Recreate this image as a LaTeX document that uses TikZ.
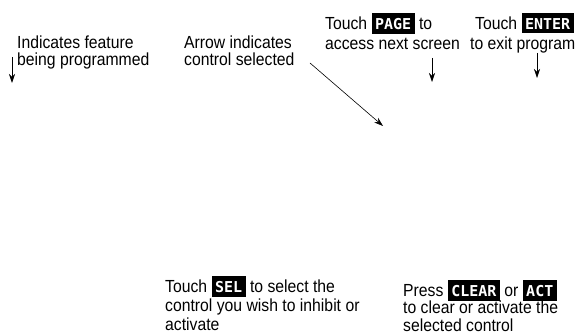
\documentclass[tikz,border=0pt]{standalone}
\usepackage{fontspec}
\setmainfont{Liberation Sans}[FakeStretch=0.9]
\newfontfamily\keyfont{DejaVu Sans Mono}
\usetikzlibrary{arrows.meta}
\newcommand{\keycap}[1]{{\setlength{\fboxsep}{3.5pt}\colorbox{black}{\rule{0pt}{13pt}\textcolor{white}{\keyfont\bfseries\fontsize{15}{15}\selectfont #1}}}}
\newcommand{\txtline}[4]{\node[txt] (#1) at ( #2 , #3 ) {#4};}
\newcommand{\tip}[3]{\coordinate (#1) at ( #2 , #3 );}
\tikzset{
  txt/.style={anchor=base west, inner sep=0pt, font=\fontsize{17.5}{20}\selectfont},
  ptr/.style={-{Stealth[length=9pt,width=6pt]}, line width=0.6pt}
}

\begin{document}
\begin{tikzpicture}[x=1pt,y=-1pt]
\useasboundingbox (0,0) rectangle (581,336);
% top left labels
\txtline{feat1}{17}{49}{Indicates feature}
\txtline{feat2}{17}{66}{being programmed}
\txtline{ctrl1}{184}{49}{Arrow indicates}
\txtline{ctrl2}{184}{66}{control selected}
% top right labels
\txtline{page1}{325}{30}{Touch \keycap{PAGE} to}
\txtline{page2}{325}{50}{access next screen}
\txtline{enter1}{475}{30}{Touch \keycap{ENTER}}
\txtline{enter2}{470}{50}{to exit program}
% bottom labels
\txtline{sel1}{165}{293}{Touch \keycap{SEL} to select the}
\txtline{sel2}{165}{312}{control you wish to inhibit or}
\txtline{sel3}{165}{331}{activate}
\txtline{clr1}{403}{297}{Press \keycap{CLEAR} or \keycap{ACT}}
\txtline{clr2}{403}{314}{to clear or activate the}
\txtline{clr3}{403}{332}{selected control}
% arrow ends
\tip{featS}{12}{57} \tip{featE}{12}{83}
\tip{ctrlS}{310}{63} \tip{ctrlE}{383}{126}
\tip{pageS}{432}{58} \tip{pageE}{432}{82}
\tip{enterS}{537}{53} \tip{enterE}{537}{78}
% arrows
\draw[ptr] (featS) -- (featE);
\draw[ptr] (ctrlS) -- (ctrlE);
\draw[ptr] (pageS) -- (pageE);
\draw[ptr] (enterS) -- (enterE);
\end{tikzpicture}
\end{document}
